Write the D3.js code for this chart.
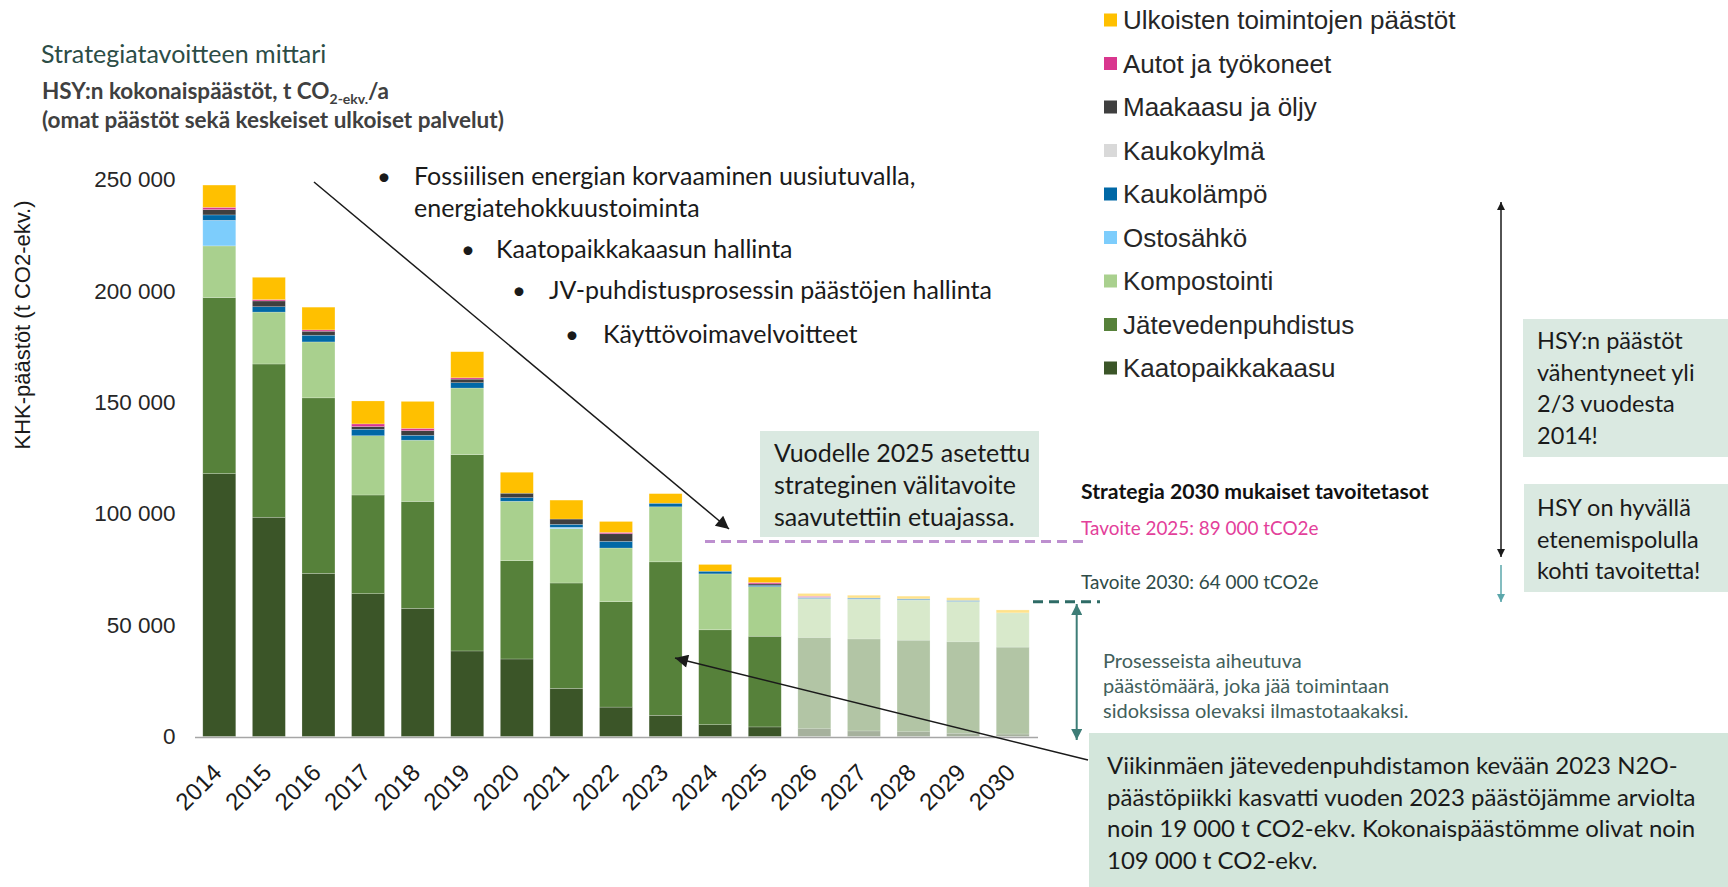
<!DOCTYPE html>
<html>
<head>
<meta charset="utf-8">
<script src="https://cdn.jsdelivr.net/npm/d3@7"></script>
<style>
  body { margin: 0; background: #fff; }
  svg { display: block; }
  .lato { font-family: Lato, "Open Sans", sans-serif; }
  .arial { font-family: "Liberation Sans", Arial, sans-serif; }
</style>
</head>
<body>
<svg id="chart" width="1728" height="887"></svg>
<script>
// values, t CO2-ekv.
const years = [2014, 2015, 2016, 2017, 2018, 2019, 2020, 2021, 2022, 2023, 2024, 2025, 2026, 2027, 2028, 2029, 2030];
const kaatopaikkakaasu = [118000, 98400, 73200, 64100, 57500, 38400, 34800, 21600, 13200, 9500, 5300, 4300, 3500, 2500, 2200, 1400, 1100];
const jatevedenpuhdistus = [79000, 68800, 78800, 44300, 48000, 88100, 44100, 47300, 47300, 68900, 42600, 40700, 40900, 41300, 41000, 41100, 39000];
const kompostointi = [23200, 23300, 25100, 26600, 27500, 29900, 26700, 24400, 24100, 24700, 25100, 22300, 17400, 17800, 18000, 18000, 15400];
const ostosahko = [11500, 0, 0, 0, 0, 0, 0, 600, 0, 0, 0, 0, 0, 0, 0, 0, 0];
const kaukolampo = [2400, 2400, 3000, 2900, 2200, 2400, 1600, 1300, 3000, 1600, 1200, 600, 600, 600, 600, 600, 0];
const kaukokylma = [0, 0, 0, 0, 0, 0, 0, 0, 0, 0, 0, 0, 0, 0, 0, 0, 0];
const maakaasuJaOljy = [2400, 2600, 1800, 1200, 2100, 1600, 2000, 2400, 3400, 0, 0, 600, 0, 0, 0, 0, 0];
const autotJaTyokoneet = [1000, 600, 600, 1200, 1000, 600, 0, 0, 600, 0, 0, 600, 600, 0, 0, 0, 0];
const ulkoisetToiminnot = [10000, 10000, 10200, 10300, 12100, 11700, 9400, 8500, 4900, 4300, 3000, 2400, 1200, 1200, 1200, 1200, 1300];

const firstProjectedYear = 2026;

// bottom to top
const seriesKeys = ["kaatopaikka", "jatevesi", "komposti", "ostosahko", "kaukolampo", "kaukokylma", "maakaasu", "autot", "ulkoiset"];
const seriesValues = [kaatopaikkakaasu, jatevedenpuhdistus, kompostointi, ostosahko, kaukolampo, kaukokylma, maakaasuJaOljy, autotJaTyokoneet, ulkoisetToiminnot];
const seriesLabels = ["Kaatopaikkakaasu", "Jätevedenpuhdistus", "Kompostointi", "Ostosähkö", "Kaukolämpö", "Kaukokylmä", "Maakaasu ja öljy", "Autot ja työkoneet", "Ulkoisten toimintojen päästöt"];
const seriesColors = ["#3b5528", "#56813a", "#a9d08e", "#7dcdfc", "#0068a6", "#d9d9d9", "#3f3f3f", "#d9368e", "#ffc000"];

const yTicks = [0, 50000, 100000, 150000, 200000, 250000];

// levels where the dashed target lines sit in the picture
const target2025Level = 87500;
const target2030Level = 60500;

const titleText = "Strategiatavoitteen mittari";
const subtitleSecond = "(omat päästöt sekä keskeiset ulkoiset palvelut)";
const yAxisTitle = "KHK-päästöt (t CO2-ekv.)";
const measures = ["Fossiilisen energian korvaaminen uusiutuvalla,", "Kaatopaikkakaasun hallinta", "JV-puhdistusprosessin päästöjen hallinta", "Käyttövoimavelvoitteet"];
const vuodelleLines = ["Vuodelle 2025 asetettu", "strateginen välitavoite", "saavutettiin etuajassa."];
const reducedLines = ["HSY:n päästöt", "vähentyneet yli", "2/3 vuodesta", "2014!"];
const onTrackLines = ["HSY on hyvällä", "etenemispolulla", "kohti tavoitetta!"];
const processLines = ["Prosesseista aiheutuva", "päästömäärä, joka jää toimintaan", "sidoksissa olevaksi ilmastotaakaksi."];
const peakLines = ["Viikinmäen jätevedenpuhdistamon kevään 2023 N2O-", "päästöpiikki kasvatti vuoden 2023 päästöjämme arviolta", "noin 19 000 t CO2-ekv. Kokonaispäästömme olivat noin", "109 000 t CO2-ekv."];

const svg = d3.select("#chart");

var table = years.map(function(yr, i) {
    var row = { year: yr };
    seriesKeys.forEach(function(k, j) { row[k] = seriesValues[j][i]; });
    return row;
});

var x = d3.scaleBand()
    .domain(years)
    .range([194.5, 1037.5])
    .paddingInner(0.335)
    .paddingOuter(0.1675);

var y = d3.scaleLinear()
    .domain([0, 250000])
    .range([736.5, 179.5]);

var stacked = d3.stack().keys(seriesKeys)(table);

// markers
var defs = svg.append("defs");
function addMarker(id, color, w, h) {
    defs.append("marker")
        .attr("id", id)
        .attr("viewBox", "0 0 10 10")
        .attr("refX", 10).attr("refY", 5)
        .attr("markerUnits", "userSpaceOnUse")
        .attr("markerWidth", w).attr("markerHeight", h)
        .attr("orient", "auto-start-reverse")
        .append("path")
        .attr("d", "M0,0L10,5L0,10Z")
        .attr("fill", color);
}
addMarker("headBlack", "#1a1a1a", 15, 13);
addMarker("headSmall", "#1a1a1a", 9, 8);
addMarker("headTeal", "#3d7d77", 12, 11);
addMarker("headTealLight", "#5ba7ab", 9, 8);

// bars
var layers = svg.append("g").selectAll("g")
    .data(stacked)
    .enter().append("g")
    .attr("fill", function(d, i) { return seriesColors[i]; });

layers.selectAll("rect")
    .data(function(d) { return d; })
    .enter().append("rect")
    .attr("x", function(d) { return x(d.data.year); })
    .attr("y", function(d) { return y(d[1]); })
    .attr("width", x.bandwidth())
    .attr("height", function(d) { return Math.max(0, y(d[0]) - y(d[1])); })
    .attr("opacity", function(d) { return d.data.year >= firstProjectedYear ? 0.45 : 1; })
    .attr("stroke", "#ffffff")
    .attr("stroke-opacity", 0.35)
    .attr("stroke-width", 0.6);

// axes
var fi = d3.formatLocale({ decimal: ",", thousands: "\u00a0", grouping: [3], currency: ["", ""] });

var yAxis = svg.append("g")
    .attr("class", "arial")
    .attr("transform", "translate(194.5,0)")
    .call(d3.axisLeft(y).tickValues(yTicks).tickSize(0).tickPadding(19).tickFormat(fi.format(",")));
yAxis.select(".domain").remove();
yAxis.selectAll("text").attr("font-size", 22.5).attr("fill", "#262626");

var xAxis = svg.append("g")
    .attr("class", "arial")
    .attr("transform", "translate(0,737)")
    .call(d3.axisBottom(x).tickSize(0));
xAxis.select(".domain").attr("stroke", "#a6a6a6").attr("stroke-width", 1.5);
xAxis.selectAll("text")
    .attr("font-size", 24)
    .attr("fill", "#1a1a1a")
    .attr("text-anchor", "end")
    .attr("y", 0).attr("dy", 0)
    .attr("transform", "translate(4,37) rotate(-45)");

svg.append("text")
    .attr("class", "arial")
    .attr("transform", "translate(22,325) rotate(-90)")
    .attr("text-anchor", "middle")
    .attr("dominant-baseline", "central")
    .attr("font-size", 22)
    .attr("fill", "#1a1a1a")
    .text(yAxisTitle);

// titles
svg.append("text").attr("class", "lato")
    .attr("x", 41).attr("y", 63)
    .attr("font-size", 25).attr("fill", "#2c4d46")
    .text(titleText);

var sub = svg.append("text").attr("class", "lato")
    .attr("x", 42).attr("y", 99)
    .attr("font-size", 22.5).attr("font-weight", 700).attr("fill", "#404040");
sub.append("tspan").text("HSY:n kokonaispäästöt, t CO");
sub.append("tspan").attr("font-size", 14).attr("dy", 5).text("2-ekv.");
sub.append("tspan").attr("dy", -5).text("/a");

svg.append("text").attr("class", "lato")
    .attr("x", 42).attr("y", 128)
    .attr("font-size", 22.5).attr("font-weight", 700).attr("fill", "#404040")
    .text(subtitleSecond);

function textLines(lines, x0, y0, lineHeight, size, color, weight) {
    var t = svg.append("text").attr("class", "lato")
        .attr("font-size", size).attr("fill", color)
        .attr("font-weight", weight || 400);
    lines.forEach(function(s, i) {
        t.append("tspan").attr("x", x0).attr("y", y0 + i * lineHeight).text(s);
    });
    return t;
}

// measures list
var bulletX = [377, 461, 512, 565];
var measureX = [414, 496, 549, 603];
var measureY = [185, 258, 299, 343];
measures.forEach(function(m, i) {
    textLines(["•"], bulletX[i], measureY[i], 0, 24, "#1a1a1a");
    textLines([m], measureX[i], measureY[i], 0, 25, "#1a1a1a");
});
textLines(["energiatehokkuustoiminta"], 414, 217, 0, 25, "#1a1a1a");

// arrows
svg.append("line")
    .attr("x1", 314).attr("y1", 182).attr("x2", 729).attr("y2", 529)
    .attr("stroke", "#1a1a1a").attr("stroke-width", 1.5)
    .attr("marker-end", "url(#headBlack)");
svg.append("line")
    .attr("x1", 1088).attr("y1", 760).attr("x2", 675).attr("y2", 658)
    .attr("stroke", "#1a1a1a").attr("stroke-width", 1.5)
    .attr("marker-end", "url(#headBlack)");

// callout boxes
svg.append("rect").attr("x", 760).attr("y", 431).attr("width", 279).attr("height", 106).attr("fill", "#dae9e1");
textLines(vuodelleLines, 774, 462, 32, 25, "#1a1a1a");

svg.append("rect").attr("x", 1523).attr("y", 319).attr("width", 205).attr("height", 138).attr("fill", "#dae9e1");
textLines(reducedLines, 1537, 349, 31.5, 23.5, "#1a1a1a");

svg.append("rect").attr("x", 1524).attr("y", 484).attr("width", 204).attr("height", 108).attr("fill", "#dae9e1");
textLines(onTrackLines, 1537, 516, 31.5, 23.5, "#1a1a1a");

svg.append("rect").attr("x", 1089).attr("y", 733).attr("width", 639).attr("height", 154).attr("fill", "#d3e6db");
textLines(peakLines, 1107, 774, 31.5, 24, "#1a1a1a");

// target lines
svg.append("line")
    .attr("x1", 705).attr("x2", 1087)
    .attr("y1", y(target2025Level)).attr("y2", y(target2025Level))
    .attr("stroke", "#bd8fcf").attr("stroke-width", 3).attr("stroke-dasharray", "10 6");
svg.append("line")
    .attr("x1", 1033).attr("x2", 1100)
    .attr("y1", y(target2030Level)).attr("y2", y(target2030Level))
    .attr("stroke", "#2e6b66").attr("stroke-width", 3).attr("stroke-dasharray", "10 6");

textLines(["Strategia 2030 mukaiset tavoitetasot"], 1081, 499, 0, 21.2, "#111111", 700);
textLines(["Tavoite 2025: 89 000 tCO2e"], 1081, 535, 0, 18.9, "#e3409a");
textLines(["Tavoite 2030: 64 000 tCO2e"], 1081, 589, 0, 18.9, "#2f4b47");

svg.append("line")
    .attr("x1", 1076.7).attr("x2", 1076.7).attr("y1", 604).attr("y2", 740)
    .attr("stroke", "#3d7d77").attr("stroke-width", 2)
    .attr("marker-start", "url(#headTeal)").attr("marker-end", "url(#headTeal)");
textLines(processLines, 1103, 668, 25, 20, "#42605b");

// legend
var legend = svg.append("g").attr("class", "arial");
var legendOrder = seriesKeys.map(function(k, i) { return i; }).reverse();
legendOrder.forEach(function(si, r) {
    var ly = 20 + r * 43.5;
    legend.append("rect")
        .attr("x", 1104).attr("y", ly - 6.5)
        .attr("width", 13).attr("height", 13)
        .attr("fill", seriesColors[si]);
    legend.append("text")
        .attr("x", 1123).attr("y", ly)
        .attr("dy", "0.36em")
        .attr("font-size", 26).attr("fill", "#262626")
        .text(seriesLabels[si]);
});

// right side arrows
svg.append("line")
    .attr("x1", 1501).attr("x2", 1501).attr("y1", 202).attr("y2", 557)
    .attr("stroke", "#1a1a1a").attr("stroke-width", 1.5)
    .attr("marker-start", "url(#headSmall)").attr("marker-end", "url(#headSmall)");
svg.append("line")
    .attr("x1", 1501).attr("x2", 1501).attr("y1", 565).attr("y2", 602)
    .attr("stroke", "#5ba7ab").attr("stroke-width", 1.5)
    .attr("marker-end", "url(#headTealLight)");
</script>
</body>
</html>
